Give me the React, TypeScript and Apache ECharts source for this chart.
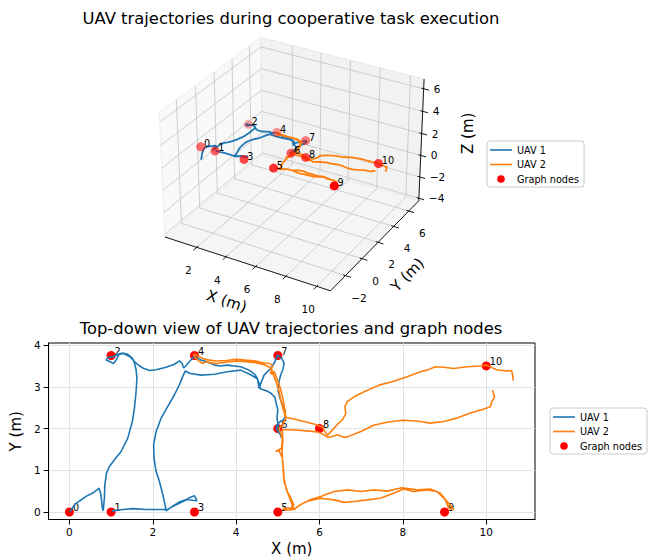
import React, { useEffect, useRef } from "react";
import * as echarts from "echarts";

const FONT = "DejaVu Sans";
const TITLE_3D = "UAV trajectories during cooperative task execution";
const TITLE_2D = "Top-down view of UAV trajectories and graph nodes";
const SERIES_NAMES = ["UAV 1", "UAV 2", "Graph nodes"];
const COLORS = ["#1f77b4", "#ff7f0e", "#ff0000"];

// Graph nodes
const NODE_IDS = [0, 1, 2, 3, 4, 5, 6, 7, 8, 9, 10];
const NODE_X = [0, 1, 1, 3, 3, 5, 5, 5, 6, 9, 10];
const NODE_Y = [0, 0, 3.75, 0, 3.75, 0, 2, 3.75, 2, 0, 3.5];
const NODE_Z = [1.5, 1.5, 1.5, 1.5, 1.5, 1.5, 1.5, 1.5, 1.5, 1.5, 1.5];

// Trajectories [x, y, z]
const UAV1_PATH = [
  [0.0, 0.0, 0.3], [0.05, 0.06, 0.9], [0.13, 0.18, 1.3], [0.25, 0.27, 1.42], [0.41, 0.38, 1.45], [0.57, 0.46, 1.48],
  [0.66, 0.53, 1.5], [0.71, 0.57, 1.5], [0.74, 0.48, 1.47], [0.77, 0.3, 1.45], [0.79, 0.1, 1.44], [0.81, 0.03, 1.45],
  [0.84, 0.34, 1.47], [0.85, 0.65, 1.5], [0.89, 0.93, 1.52], [0.96, 1.09, 1.5], [1.08, 1.25, 1.48], [1.24, 1.45, 1.5],
  [1.4, 1.77, 1.52], [1.51, 2.17, 1.5], [1.56, 2.49, 1.48], [1.6, 2.89, 1.5], [1.62, 3.21, 1.52], [1.6, 3.41, 1.5],
  [1.56, 3.57, 1.47], [1.51, 3.69, 1.5], [1.4, 3.78, 1.52], [1.28, 3.81, 1.5], [1.16, 3.78, 1.48], [1.05, 3.72, 1.5],
  [0.92, 3.7, 1.52], [0.88, 3.64, 1.5], [0.98, 3.6, 1.48], [1.06, 3.56, 1.5], [1.12, 3.64, 1.52], [1.18, 3.77, 1.5],
  [1.3, 3.8, 1.49], [1.45, 3.72, 1.5], [1.64, 3.53, 1.5], [1.76, 3.45, 1.52], [1.92, 3.39, 1.5], [2.08, 3.41, 1.48],
  [2.32, 3.47, 1.5], [2.52, 3.54, 1.52], [2.64, 3.62, 1.5], [2.7, 3.57, 1.47], [2.74, 3.45, 1.5], [2.8, 3.51, 1.52],
  [2.89, 3.62, 1.5], [3.0, 3.73, 1.49], [3.16, 3.64, 1.5], [3.3, 3.6, 1.52], [3.48, 3.52, 1.5], [3.62, 3.5, 1.48],
  [3.79, 3.52, 1.5], [3.95, 3.5, 1.52], [4.11, 3.48, 1.5], [4.31, 3.4, 1.48], [4.45, 3.3, 1.5], [4.51, 3.2, 1.52],
  [4.55, 2.96, 1.5], [4.6, 3.1, 1.48], [4.67, 3.28, 1.5], [4.83, 3.44, 1.52], [4.93, 3.6, 1.5], [4.99, 3.76, 1.49],
  [5.09, 3.69, 1.5], [5.15, 3.57, 1.52], [5.12, 3.41, 1.5], [5.07, 3.29, 1.48], [5.03, 3.13, 1.5], [5.01, 2.89, 1.52],
  [5.05, 2.73, 1.5], [5.11, 2.57, 1.48], [5.17, 2.45, 1.5], [5.18, 2.29, 1.52], [5.14, 2.21, 1.5], [5.06, 2.17, 1.48],
  [4.98, 2.09, 1.5], [4.96, 2.0, 1.51], [5.01, 1.92, 1.5], [5.07, 1.84, 1.48], [5.09, 1.77, 1.5], [5.03, 1.95, 1.52],
  [5.01, 2.05, 1.5], [5.0, 2.13, 1.48], [4.98, 2.25, 1.5], [5.0, 2.45, 1.52], [4.96, 2.61, 1.5], [4.93, 2.75, 1.48],
  [4.83, 2.85, 1.5], [4.71, 2.91, 1.52], [4.59, 2.95, 1.5], [4.55, 3.09, 1.48], [4.51, 3.19, 1.5], [4.35, 3.29, 1.52],
  [4.11, 3.4, 1.5], [3.79, 3.36, 1.48], [3.48, 3.3, 1.5], [3.16, 3.28, 1.52], [2.9, 3.32, 1.5], [2.78, 3.38, 1.49],
  [2.72, 3.25, 1.5], [2.64, 3.05, 1.52], [2.52, 2.81, 1.5], [2.36, 2.53, 1.48], [2.2, 2.25, 1.5], [2.08, 1.93, 1.52],
  [2.02, 1.61, 1.5], [2.03, 1.29, 1.48], [2.08, 0.97, 1.5], [2.16, 0.73, 1.52], [2.24, 0.42, 1.5], [2.3, 0.14, 1.48],
  [2.32, 0.03, 1.5], [2.44, 0.11, 1.52], [2.6, 0.19, 1.5], [2.76, 0.27, 1.48], [2.89, 0.35, 1.5], [3.0, 0.39, 1.52],
  [3.06, 0.27, 1.5], [2.96, 0.28, 1.48], [2.8, 0.3, 1.5], [2.64, 0.24, 1.52], [2.48, 0.14, 1.5], [2.36, 0.06, 1.48],
  [2.16, 0.06, 1.5], [1.84, 0.06, 1.52], [1.52, 0.08, 1.5], [1.28, 0.06, 1.48], [1.12, 0.04, 1.5], [1.02, 0.02, 1.5],
];

const UAV2_PATH = [
  [10.65, 3.15, 1.25], [10.63, 3.29, 1.4], [10.61, 3.39, 1.5], [10.49, 3.38, 1.5], [10.25, 3.41, 1.52], [10.0, 3.52, 1.5],
  [9.86, 3.5, 1.48], [9.54, 3.48, 1.5], [9.22, 3.44, 1.52], [8.98, 3.47, 1.5], [8.78, 3.48, 1.48], [8.58, 3.4, 1.5],
  [8.42, 3.36, 1.52], [8.1, 3.24, 1.5], [7.74, 3.12, 1.48], [7.43, 3.04, 1.5], [7.07, 2.88, 1.52], [6.83, 2.76, 1.5],
  [6.67, 2.65, 1.48], [6.61, 2.53, 1.5], [6.63, 2.35, 1.52], [6.55, 2.21, 1.5], [6.41, 2.08, 1.48], [6.27, 1.92, 1.5],
  [6.19, 1.84, 1.52], [6.12, 1.95, 1.5], [6.07, 2.03, 1.5], [5.87, 2.11, 1.48], [5.63, 2.17, 1.5], [5.39, 2.23, 1.52],
  [5.18, 2.27, 1.5], [5.15, 2.4, 1.48], [5.11, 2.53, 1.5], [5.07, 2.69, 1.52], [5.03, 2.89, 1.5], [4.98, 3.05, 1.48],
  [4.91, 3.25, 1.5], [4.83, 3.41, 1.52], [4.88, 3.5, 1.5], [4.8, 3.56, 1.48], [4.67, 3.57, 1.5], [4.47, 3.62, 1.52],
  [4.23, 3.64, 1.5], [4.0, 3.66, 1.48], [3.76, 3.63, 1.5], [3.52, 3.62, 1.52], [3.36, 3.64, 1.5], [3.2, 3.68, 1.48],
  [3.05, 3.76, 1.5], [2.98, 3.78, 1.5], [3.02, 3.7, 1.52], [3.1, 3.62, 1.5], [3.2, 3.56, 1.48], [3.3, 3.61, 1.5],
  [3.36, 3.58, 1.52], [3.52, 3.56, 1.5], [3.76, 3.59, 1.48], [4.0, 3.62, 1.5], [4.23, 3.6, 1.52], [4.47, 3.58, 1.5],
  [4.67, 3.53, 1.48], [4.78, 3.48, 1.5], [4.87, 3.4, 1.52], [4.82, 3.33, 1.5], [4.88, 3.3, 1.48], [4.91, 3.37, 1.5],
  [4.99, 3.17, 1.52], [5.06, 2.97, 1.5], [5.11, 2.77, 1.48], [5.15, 2.57, 1.5], [5.18, 2.37, 1.52], [5.19, 2.25, 1.5],
  [5.12, 2.1, 1.48], [5.03, 2.0, 1.5], [5.06, 1.9, 1.52], [5.11, 1.77, 1.5], [5.09, 1.53, 1.48], [4.95, 1.45, 1.5],
  [5.03, 1.47, 1.5], [5.11, 1.29, 1.52], [5.14, 0.97, 1.5], [5.15, 0.73, 1.48], [5.23, 0.49, 1.5], [5.31, 0.34, 1.52],
  [5.38, 0.18, 1.5], [5.35, 0.06, 1.48], [5.2, 0.04, 1.5], [5.12, 0.07, 1.52], [5.25, 0.1, 1.5], [5.39, 0.06, 1.48],
  [5.55, 0.18, 1.5], [5.71, 0.26, 1.52], [6.03, 0.33, 1.5], [6.35, 0.29, 1.48], [6.59, 0.23, 1.5], [6.83, 0.25, 1.52],
  [7.15, 0.29, 1.5], [7.46, 0.33, 1.48], [7.78, 0.45, 1.5], [8.02, 0.55, 1.52], [8.25, 0.49, 1.5], [8.58, 0.53, 1.48],
  [8.82, 0.49, 1.5], [9.02, 0.29, 1.52], [9.1, 0.09, 1.5], [9.22, 0.06, 1.48], [9.16, 0.14, 1.5], [9.06, 0.25, 1.52],
  [8.9, 0.45, 1.5], [8.66, 0.55, 1.48], [8.34, 0.53, 1.5], [7.98, 0.58, 1.52], [7.62, 0.5, 1.5], [7.3, 0.53, 1.48],
  [6.99, 0.49, 1.5], [6.67, 0.53, 1.52], [6.35, 0.49, 1.5], [6.03, 0.37, 1.48], [5.79, 0.3, 1.5], [5.55, 0.18, 1.52],
  [5.4, 0.08, 1.5], [5.3, 0.05, 1.48], [5.35, 0.15, 1.5], [5.28, 0.35, 1.52], [5.2, 0.55, 1.5], [5.14, 0.85, 1.48],
  [5.12, 1.15, 1.5], [5.1, 1.45, 1.52], [5.12, 1.7, 1.5], [5.11, 1.97, 1.48], [5.31, 1.97, 1.5], [5.63, 1.95, 1.52],
  [5.95, 1.92, 1.5], [6.11, 1.85, 1.48], [6.2, 1.79, 1.5], [6.31, 1.81, 1.52], [6.43, 1.85, 1.5], [6.59, 1.79, 1.48],
  [6.67, 1.8, 1.5], [6.99, 1.93, 1.52], [7.3, 2.08, 1.5], [7.62, 2.15, 1.48], [7.98, 2.2, 1.5], [8.34, 2.18, 1.52],
  [8.66, 2.13, 1.5], [8.98, 2.17, 1.48], [9.3, 2.25, 1.5], [9.62, 2.37, 1.52], [9.93, 2.46, 1.5], [10.1, 2.52, 1.48],
  [10.13, 2.64, 1.5], [10.2, 2.75, 1.4], [10.17, 2.85, 1.3], [10.15, 2.92, 1.25],
];

// 3D axes
const X3D_LIMITS = [0.0, 10.66];
const Y3D_LIMITS = [-3.53, 7.13];
const Z3D_LIMITS = [-4.03, 6.63];
const X3D_TICKS = [2, 4, 6, 8, 10];
const Y3D_TICKS = [-2, 0, 2, 4, 6];
const Z3D_TICKS = [-4, -2, 0, 2, 4, 6];

// 2D axes
const X2D_RANGE = [-0.5, 11.17];
const Y2D_RANGE = [-0.18, 4.05];
const X2D_TICKS = [0, 2, 4, 6, 8, 10];
const Y2D_TICKS = [0, 1, 2, 3, 4];

// View (matplotlib-like camera) and page layout
const VIEW = { elev: 30, azim: -60, dist: 10, cx: 294.1, cy: 158.3, scale: 1660 };
const W = 649;
const H = 560;

const fmt = (v: number) => (v < 0 ? "\u2212" + String(-v) : String(v));

function makeProjector() {
  const aspect = [4, 4, 3];
  const n = Math.hypot(aspect[0], aspect[1], aspect[2]);
  const box = aspect.map((a) => (a * 1.8294640721620434) / n);
  const lims = [X3D_LIMITS, Y3D_LIMITS, Z3D_LIMITS].map(([a, b]) => {
    const p = (b - a) / 48;
    return [a - p, b + p];
  });
  const e = (VIEW.elev * Math.PI) / 180;
  const az = (VIEW.azim * Math.PI) / 180;
  const w = [Math.cos(e) * Math.cos(az), Math.cos(e) * Math.sin(az), Math.sin(e)];
  const R = box.map((b) => b / 2);
  const eye = R.map((r, i) => r + VIEW.dist * w[i]);
  const un = Math.hypot(w[0], w[1]);
  const u = [-w[1] / un, w[0] / un, 0];
  const v = [w[1] * u[2] - w[2] * u[1], w[2] * u[0] - w[0] * u[2], w[0] * u[1] - w[1] * u[0]];
  const proj = (x: number, y: number, z: number) => {
    const p = [x, y, z].map((c, i) => ((c - lims[i][0]) / (lims[i][1] - lims[i][0])) * box[i] - eye[i]);
    const xv = u[0] * p[0] + u[1] * p[1] + u[2] * p[2];
    const yv = v[0] * p[0] + v[1] * p[1] + v[2] * p[2];
    const zv = w[0] * p[0] + w[1] * p[1] + w[2] * p[2];
    return [xv / -zv, yv / -zv, -zv];
  };
  return { proj, lims };
}

function buildOption() {
  const { proj, lims } = makeProjector();
  const P = (x: number, y: number, z: number) => {
    const r = proj(x, y, z);
    return [r[0], r[1]];
  };
  const [X0, X1] = lims[0];
  const [Y0, Y1] = lims[1];
  const [Z0, Z1] = lims[2];

  const prims: any[] = [];
  // panes
  prims.push({ kind: "poly", pts: [P(X0, Y0, Z0), P(X0, Y1, Z0), P(X0, Y1, Z1), P(X0, Y0, Z1)], fill: "#f9f9f9", stroke: "#efefef" });
  prims.push({ kind: "poly", pts: [P(X0, Y1, Z0), P(X1, Y1, Z0), P(X1, Y1, Z1), P(X0, Y1, Z1)], fill: "#f2f2f2", stroke: "#e8e8e8" });
  prims.push({ kind: "poly", pts: [P(X0, Y0, Z0), P(X1, Y0, Z0), P(X1, Y1, Z0), P(X0, Y1, Z0)], fill: "#f5f5f5", stroke: "#ececec" });
  const GRID = "#c8c8c8";
  X3D_TICKS.forEach((x) => {
    prims.push({ kind: "line", pts: [P(x, Y0, Z0), P(x, Y1, Z0), P(x, Y1, Z1)], stroke: GRID, width: 0.9 });
  });
  Y3D_TICKS.forEach((y) => {
    prims.push({ kind: "line", pts: [P(X1, y, Z0), P(X0, y, Z0), P(X0, y, Z1)], stroke: GRID, width: 0.9 });
  });
  Z3D_TICKS.forEach((z) => {
    prims.push({ kind: "line", pts: [P(X0, Y0, z), P(X0, Y1, z), P(X1, Y1, z)], stroke: GRID, width: 0.9 });
  });
  // axis lines
  prims.push({ kind: "line", pts: [P(X0, Y0, Z0), P(X1, Y0, Z0)], stroke: "#000", width: 0.9 });
  prims.push({ kind: "line", pts: [P(X1, Y0, Z0), P(X1, Y1, Z0)], stroke: "#000", width: 0.9 });
  prims.push({ kind: "line", pts: [P(X1, Y1, Z0), P(X1, Y1, Z1)], stroke: "#000", width: 0.9 });
  // ticks + labels
  X3D_TICKS.forEach((x) => {
    prims.push({ kind: "line", pts: [P(x, Y0 + 0.15, Z0), P(x, Y0 - 0.35, Z0)], stroke: "#000", width: 0.9 });
    prims.push({ kind: "text", at: P(x, Y0, Z0), dx: -8.5, dy: 23, text: fmt(x), size: 10.5 });
  });
  Y3D_TICKS.forEach((y) => {
    prims.push({ kind: "line", pts: [P(X1 - 0.15, y, Z0), P(X1 + 0.35, y, Z0)], stroke: "#000", width: 0.9 });
    prims.push({ kind: "text", at: P(X1, y, Z0), dx: 13.5, dy: 22, text: fmt(y), size: 10.5 });
  });
  Z3D_TICKS.forEach((z) => {
    prims.push({ kind: "line", pts: [P(X1 - 0.15, Y1, z), P(X1 + 0.35, Y1, z)], stroke: "#000", width: 0.9 });
    prims.push({ kind: "text", at: P(X1, Y1, z), dx: 10, dy: 0, text: fmt(z), size: 10.5, align: "left" });
  });
  const xm = (X0 + X1) / 2;
  const ym = (Y0 + Y1) / 2;
  const zm = (Z0 + Z1) / 2;
  prims.push({ kind: "text", at: P(xm, Y0, Z0), dx: -19, dy: 38, text: "X (m)", size: 15, rot: -0.314 });
  prims.push({ kind: "text", at: P(X1, ym, Z0), dx: 31, dy: 31, text: "Y (m)", size: 15, rot: 0.795 });
  prims.push({ kind: "text", at: P(X1, Y1, zm), dx: 47, dy: -8, text: "Z (m)", size: 15, rot: Math.PI / 2 });

  const nodeDepth = NODE_X.map((x, i) => proj(x, NODE_Y[i], NODE_Z[i])[2]);
  const dMin = Math.min(...nodeDepth);
  const dMax = Math.max(...nodeDepth);
  const nodes3d = NODE_IDS.map((id, i) => {
    const p = P(NODE_X[i], NODE_Y[i], NODE_Z[i]);
    const alpha = 1 - (0.7 * (nodeDepth[i] - dMin)) / (dMax - dMin);
    return { name: String(id), value: p, itemStyle: { color: `rgba(255,0,0,${alpha.toFixed(3)})`, opacity: 1 } };
  });
  const nodes2d = NODE_IDS.map((id, i) => ({ name: String(id), value: [NODE_X[i], NODE_Y[i]] }));

  const lineIcon = "path://M0,0 M22,10 M0,4.2 L22,4.2 L22,5.8 L0,5.8 Z";
  const dotIcon = "path://M0,0 M22,10 M14.8,5 A3.8,3.8 0 1 1 7.2,5 A3.8,3.8 0 1 1 14.8,5 Z";
  const legendData = [
    { name: SERIES_NAMES[0], icon: lineIcon, itemStyle: { color: COLORS[0], borderWidth: 0, opacity: 1 } },
    { name: SERIES_NAMES[1], icon: lineIcon, itemStyle: { color: COLORS[1], borderWidth: 0, opacity: 1 } },
    { name: SERIES_NAMES[2], icon: dotIcon, itemStyle: { color: COLORS[2], borderWidth: 0, opacity: 1 } },
  ];
  const legendBase = {
    orient: "vertical",
    data: legendData,
    itemWidth: 22,
    itemHeight: 10,
    itemGap: 4.5,
    padding: [4, 5, 3, 3],
    backgroundColor: "rgba(255,255,255,0.8)",
    borderColor: "#cccccc",
    borderWidth: 1,
    borderRadius: 3,
    selectedMode: false,
    textStyle: { fontSize: 9.7, fontFamily: FONT, color: "#000" },
  };

  const labelStyle = { fontSize: 9.7, fontFamily: FONT, color: "#000", opacity: 1 };

  return {
    animation: false,
    backgroundColor: "#ffffff",
    textStyle: { fontFamily: FONT },
    title: [
      { text: TITLE_3D, left: 291, top: 10, textAlign: "center", padding: 0, textStyle: { fontSize: 16.4, fontWeight: "normal", color: "#000", fontFamily: FONT } },
      { text: TITLE_2D, left: 291, top: 320, textAlign: "center", padding: 0, textStyle: { fontSize: 16.4, fontWeight: "normal", color: "#000", fontFamily: FONT } },
    ],
    legend: [
      { ...legendBase, left: 487, top: 141 },
      { ...legendBase, left: 550, top: 408 },
    ],
    grid: [
      { left: 0, top: 0, width: W, height: H, show: false },
      { left: 47, top: 343, width: 488, height: 176.5, show: true, borderColor: "#000", borderWidth: 1, backgroundColor: "transparent" },
    ],
    xAxis: [
      { gridIndex: 0, type: "value", show: false, min: -VIEW.cx / VIEW.scale, max: (W - VIEW.cx) / VIEW.scale },
      {
        gridIndex: 1, type: "value", min: X2D_RANGE[0], max: X2D_RANGE[1],
        axisLine: { show: true, onZero: false, lineStyle: { color: "#000", width: 1 } },
        axisTick: { show: true, length: 5, customValues: X2D_TICKS, lineStyle: { color: "#000", width: 1 } },
        axisLabel: { customValues: X2D_TICKS, fontSize: 10.5, color: "#000", fontFamily: FONT, margin: 7 },
        splitLine: { show: true, lineStyle: { color: "#e3e3e3", width: 1 } },
        name: "X (m)", nameLocation: "middle", nameGap: 22,
        nameTextStyle: { fontSize: 15, color: "#000", fontFamily: FONT },
      },
    ],
    yAxis: [
      { gridIndex: 0, type: "value", show: false, min: (VIEW.cy - H) / VIEW.scale, max: VIEW.cy / VIEW.scale },
      {
        gridIndex: 1, type: "value", min: Y2D_RANGE[0], max: Y2D_RANGE[1],
        axisLine: { show: true, onZero: false, lineStyle: { color: "#000", width: 1 } },
        axisTick: { show: true, length: 5, customValues: Y2D_TICKS, lineStyle: { color: "#000", width: 1 } },
        axisLabel: { customValues: Y2D_TICKS, fontSize: 10.5, color: "#000", fontFamily: FONT, margin: 8 },
        splitLine: { show: true, lineStyle: { color: "#e3e3e3", width: 1 } },
        name: "Y (m)", nameLocation: "middle", nameGap: 24,
        nameTextStyle: { fontSize: 15, color: "#000", fontFamily: FONT },
      },
    ],
    series: [
      {
        type: "custom",
        name: "axes3d",
        xAxisIndex: 0,
        yAxisIndex: 0,
        silent: true,
        z: 1,
        data: prims.map((pr) => (pr.kind === "text" ? pr.at : pr.pts[0])),
        renderItem: (params: any, api: any) => {
          const pr = prims[params.dataIndex];
          if (pr.kind === "poly") {
            return { type: "polygon", shape: { points: pr.pts.map((p: number[]) => api.coord(p)) }, style: { fill: pr.fill, stroke: pr.stroke, lineWidth: 1 } };
          }
          if (pr.kind === "line") {
            return { type: "polyline", shape: { points: pr.pts.map((p: number[]) => api.coord(p)) }, style: { stroke: pr.stroke, lineWidth: pr.width, fill: null } };
          }
          const c = api.coord(pr.at);
          return {
            type: "text", x: c[0] + pr.dx, y: c[1] + pr.dy, rotation: pr.rot || 0,
            style: { text: pr.text, fill: "#000", fontSize: pr.size, fontFamily: FONT, align: pr.align || "center", verticalAlign: "middle" },
          };
        },
      },
      {
        type: "line", name: SERIES_NAMES[0], xAxisIndex: 0, yAxisIndex: 0, z: 2,
        data: UAV1_PATH.map((p) => P(p[0], p[1], p[2])), showSymbol: false, symbol: "none",
        lineStyle: { color: COLORS[0], width: 1.8 }, itemStyle: { color: COLORS[0] },
      },
      {
        type: "line", name: SERIES_NAMES[1], xAxisIndex: 0, yAxisIndex: 0, z: 2,
        data: UAV2_PATH.map((p) => P(p[0], p[1], p[2])), showSymbol: false, symbol: "none",
        lineStyle: { color: COLORS[1], width: 1.8 }, itemStyle: { color: COLORS[1] },
      },
      {
        type: "scatter", name: SERIES_NAMES[2], xAxisIndex: 0, yAxisIndex: 0, z: 3,
        data: nodes3d, symbolSize: 9, itemStyle: { color: COLORS[2], opacity: 1 },
        label: { show: true, formatter: (p: any) => p.name, position: [7.8, 6.5], align: "left", verticalAlign: "bottom", ...labelStyle },
      },
      {
        type: "scatter", name: SERIES_NAMES[2], xAxisIndex: 1, yAxisIndex: 1, z: 2,
        data: nodes2d, symbolSize: 9, itemStyle: { color: COLORS[2], opacity: 1 },
        label: { show: true, formatter: (p: any) => p.name, position: [8, 5.5], align: "left", verticalAlign: "bottom", ...labelStyle },
      },
      {
        type: "line", name: SERIES_NAMES[0], xAxisIndex: 1, yAxisIndex: 1, z: 3,
        data: UAV1_PATH.map((p) => [p[0], p[1]]), showSymbol: false, symbol: "none",
        lineStyle: { color: COLORS[0], width: 1.6 }, itemStyle: { color: COLORS[0] },
      },
      {
        type: "line", name: SERIES_NAMES[1], xAxisIndex: 1, yAxisIndex: 1, z: 3,
        data: UAV2_PATH.map((p) => [p[0], p[1]]), showSymbol: false, symbol: "none",
        lineStyle: { color: COLORS[1], width: 1.6 }, itemStyle: { color: COLORS[1] },
      },
    ],
  };
}

export default function App() {
  const ref = useRef<HTMLDivElement>(null);
  useEffect(() => {
    if (!ref.current) return;
    const chart = echarts.init(ref.current, null, { renderer: "svg" });
    chart.setOption(buildOption() as any);
    return () => chart.dispose();
  }, []);
  return <div ref={ref} style={{ position: "fixed", left: 0, top: 0, width: W, height: H, background: "#fff" }} />;
}
